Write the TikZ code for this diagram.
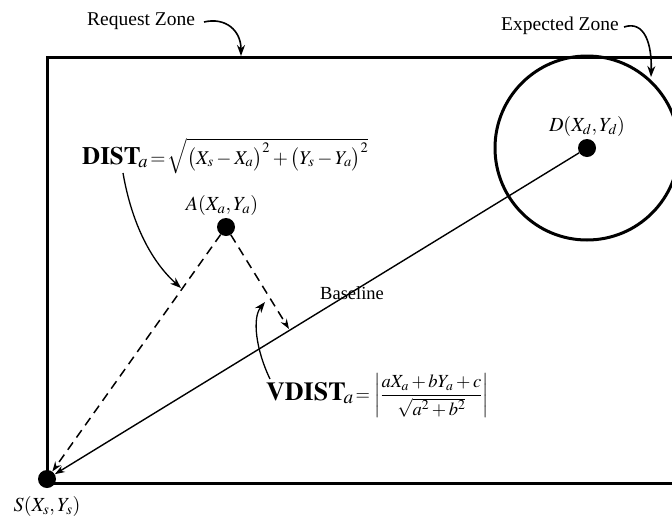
\documentclass[tikz,border=0pt]{standalone}
\usepackage{mathptmx}
\usepackage{fontspec}
\setmainfont{Liberation Serif}
\usetikzlibrary{arrows.meta}
\begin{document}
\begin{tikzpicture}[x=1pt,y=-1pt,
  zone/.style={line width=3pt},
  dot/.style={circle,fill=black,inner sep=0pt,minimum size=18pt},
  lbl/.style={inner sep=0pt,font=\fontsize{20}{23}\selectfont},
  conn/.style={line width=1.4pt},
  dashconn/.style={line width=1.5pt,dash pattern=on 9pt off 6pt},
  tip/.style={-{Stealth[length=10pt,width=7pt]}},
  callout/.style={line width=1.6pt,-{Stealth[length=11pt,width=8pt]}}]
\useasboundingbox (0,0) rectangle (672,517);
% zones
\draw[zone] (672,57) -- (47,57) -- (47,483) -- (672,483);
\node[dot] (D) at (587,148) {};
\begin{scope}
\clip (0,0) rectangle (672,517);
\draw[zone] (D.center) circle (92pt);
\end{scope}
\node[dot] (A) at (226,227) {};
\node[dot] (S) at (47,479) {};
\coordinate (F) at (289,329);
% connectors
\draw[conn,tip] (D) -- (S);
\draw[dashconn,tip] (A) -- (S);
\draw[dashconn,tip] (A) -- (F);
% labels
\node[lbl] (Alab) at (222,205) {$A(X_a,Y_a)$};
\node[lbl] (Dlab) at (587,126) {$D(X_d,Y_d)$};
\node[lbl] (Slab) at (47,506) {$S(X_s,Y_s)$};
\node[lbl,anchor=base west,font=\fontsize{18.5}{22}\selectfont] (base) at (320,299) {Baseline};
\node[lbl,anchor=base west,font=\fontsize{19.5}{22}\selectfont] (req) at (87,25) {Request Zone};
\node[lbl,anchor=base west,font=\fontsize{19.5}{22}\selectfont] (exp) at (501,30) {Expected Zone};
\node[inner sep=0pt,anchor=base west] (dist) at (82,164)
  {{\fontsize{25}{28}\selectfont$\mathbf{DIST}_{\!a}$}{\fontsize{19.5}{22}\selectfont$\,=\!\sqrt{\bigl(X_s-X_a\bigr)^2+\bigl(Y_s-Y_a\bigr)^2}$}};
\node[inner sep=0pt,anchor=base west] (vdist) at (266,400)
  {{\fontsize{26}{29}\selectfont$\mathbf{VDIST}_{\!a}$}{\fontsize{18.5}{21}\selectfont$\,=\left|\displaystyle\frac{aX_a+bY_a+c}{\sqrt{a^2+b^2}}\right|$}};
% callout arrows
\coordinate (reqA) at (204,22);
\coordinate (reqT) at (241,56);
\draw[callout] (reqA) .. controls (225,17) and (241,30) .. (reqT);
\coordinate (expA) at (624,27);
\coordinate (expT) at (651,77);
\draw[callout] (expA) .. controls (645,20) and (652,45) .. (expT);
\coordinate (distA) at (123,173);
\coordinate (distT) at (181,288);
\draw[callout,line width=1.3pt] (distA) .. controls (132,225) and (152,262) .. (distT);
\coordinate (vdA) at (270,379);
\coordinate (vdT) at (265,302);
\draw[callout,line width=1.3pt] (vdA) .. controls (256,350) and (252,318) .. (vdT);
\end{tikzpicture}
\end{document}
